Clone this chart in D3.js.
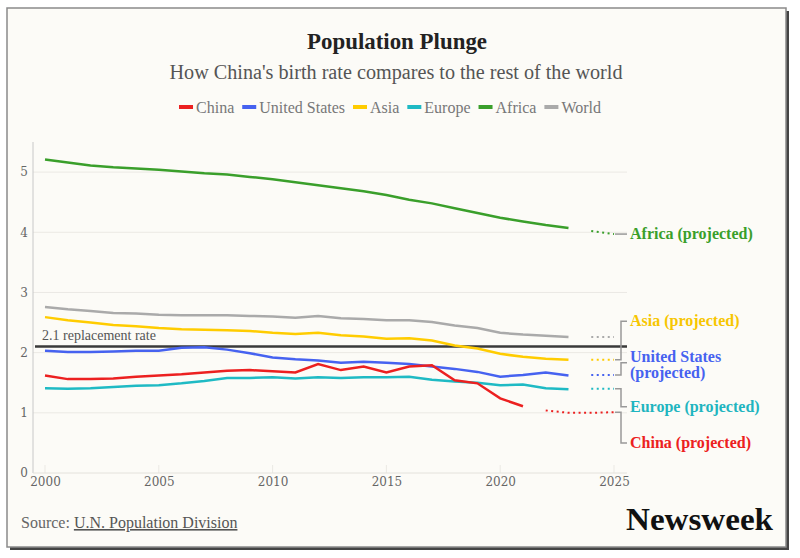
<!DOCTYPE html>
<html lang="en">
<head>
<meta charset="UTF-8">
<title>Population Plunge</title>
<script src="https://d3js.org/d3.v7.min.js"></script>
<style>
  html, body { margin: 0; padding: 0; background: #fff; }
  svg { display: block; }
</style>
</head>
<body>
<svg id="chart" width="800" height="558"></svg>
<script>
// ---- data (fertility rate, births per woman) ----
const years = d3.range(2000, 2024);
const china  = [1.62,1.56,1.56,1.57,1.60,1.62,1.64,1.67,1.70,1.71,1.69,1.67,1.81,1.71,1.77,1.67,1.77,1.79,1.54,1.49,1.24,1.11];
const us     = [2.03,2.01,2.01,2.02,2.03,2.03,2.08,2.09,2.05,1.99,1.92,1.89,1.87,1.83,1.85,1.83,1.81,1.77,1.73,1.68,1.60,1.63,1.67,1.62];
const asia   = [2.59,2.54,2.50,2.46,2.44,2.41,2.39,2.38,2.37,2.36,2.33,2.31,2.33,2.29,2.27,2.23,2.24,2.20,2.12,2.07,1.98,1.93,1.90,1.88];
const europe = [1.41,1.40,1.41,1.43,1.45,1.46,1.49,1.53,1.58,1.58,1.59,1.57,1.59,1.58,1.59,1.59,1.60,1.55,1.52,1.50,1.46,1.47,1.41,1.39];
const africa = [5.21,5.16,5.11,5.08,5.06,5.04,5.01,4.98,4.96,4.92,4.88,4.83,4.78,4.73,4.68,4.62,4.54,4.48,4.40,4.32,4.24,4.18,4.12,4.07];
const world  = [2.76,2.72,2.69,2.66,2.65,2.63,2.62,2.62,2.62,2.61,2.60,2.58,2.61,2.57,2.56,2.54,2.54,2.51,2.45,2.41,2.33,2.30,2.28,2.26];

// projections
const projYears      = [2024, 2025];
const chinaProjYears = [2022, 2023, 2024, 2025];
const chinaProj  = [1.04, 1.00, 1.00, 1.01];
const usProj     = [1.63, 1.63];
const asiaProj   = [1.88, 1.88];
const europeProj = [1.40, 1.40];
const africaProj = [4.02, 3.97];
const worldProj  = [2.26, 2.26];

const xTicks = [2000, 2005, 2010, 2015, 2020, 2025];
const yTicks = [0, 1, 2, 3, 4, 5];
const replacement = 2.1;

const seriesNames  = ["China", "United States", "Asia", "Europe", "Africa", "World"];
const seriesColors = ["#ec2020", "#4662f0", "#ffcc00", "#1fbac4", "#3a9f2b", "#aaaaaa"];

// ---- layout ----
const svg = d3.select("#chart");
const serif = "'Liberation Serif', 'Times New Roman', serif";
const numFont = "'DejaVu Serif', serif";

const x = d3.scaleLinear().domain([2000, 2025]).range([45, 614]);
const y = d3.scaleLinear().domain([0, 5.5]).range([473, 142]);
const plotLeft = 33, plotRight = 627;

// frame with shadow
svg.append("rect").attr("x", 10).attr("y", 11).attr("width", 779).attr("height", 539).attr("fill", "#444");
svg.append("rect").attr("x", 7).attr("y", 8).attr("width", 779).attr("height", 539)
  .attr("fill", "#fcfbf7").attr("stroke", "#8a8a8a").attr("stroke-width", 1.5);

// titles
svg.append("text").attr("x", 397).attr("y", 49).attr("text-anchor", "middle")
  .attr("font-family", serif).attr("font-weight", "bold").attr("font-size", 23)
  .attr("fill", "#222").attr("textLength", 180).attr("lengthAdjust", "spacingAndGlyphs")
  .text("Population Plunge");
svg.append("text").attr("x", 396).attr("y", 79).attr("text-anchor", "middle")
  .attr("font-family", serif).attr("font-size", 20)
  .attr("fill", "#555").attr("textLength", 453).attr("lengthAdjust", "spacingAndGlyphs")
  .text("How China's birth rate compares to the rest of the world");

// legend
const legend = svg.append("g");
let lx = 0;
seriesNames.forEach((name, i) => {
  const g = legend.append("g").attr("transform", `translate(${lx},0)`);
  g.append("rect").attr("x", 0).attr("y", -2).attr("width", 14).attr("height", 4).attr("fill", seriesColors[i]);
  const t = g.append("text").attr("x", 17).attr("y", 5.5)
    .attr("font-family", serif).attr("font-size", 16).attr("fill", "#777").text(name);
  lx += 17 + t.node().getComputedTextLength() + 8;
});
legend.attr("transform", `translate(${390 - (lx - 8) / 2},107)`);

// grid
const grid = svg.append("g");
grid.selectAll("line.h").data(yTicks.filter(d => d > 0)).join("line")
  .attr("x1", plotLeft).attr("x2", plotRight).attr("y1", d => y(d)).attr("y2", d => y(d))
  .attr("stroke", "#ebe9e4").attr("stroke-width", 1);
grid.selectAll("line.v").data(xTicks).join("line")
  .attr("x1", d => x(d)).attr("x2", d => x(d)).attr("y1", y(0)).attr("y2", y(0) - 8)
  .attr("stroke", "#ebe9e4").attr("stroke-width", 1);

// axes
const yAxis = svg.append("g").attr("transform", `translate(${plotLeft},0)`)
  .call(d3.axisLeft(y).tickValues(yTicks).tickFormat(d3.format("d")).tickSize(0).tickPadding(5));
yAxis.select(".domain").attr("d", `M0,${y(5.5)}V${y(0)}`).attr("stroke", "#c8c8c8");
yAxis.selectAll("text").attr("font-family", numFont).attr("font-size", 12).attr("fill", "#666");

const xAxis = svg.append("g").attr("transform", `translate(0,${y(0)})`)
  .call(d3.axisBottom(x).tickValues(xTicks).tickFormat(d3.format("d")).tickSize(0).tickPadding(4));
xAxis.select(".domain").attr("d", `M${plotLeft},0H${plotRight}`).attr("stroke", "#e4e2dc");
xAxis.selectAll("text").attr("font-family", numFont).attr("font-size", 12).attr("fill", "#666");

// replacement line
svg.append("line").attr("x1", plotLeft + 2).attr("x2", plotRight)
  .attr("y1", y(replacement)).attr("y2", y(replacement))
  .attr("stroke", "#3a3a3a").attr("stroke-width", 2.5);
svg.append("text").attr("x", 42).attr("y", y(replacement) - 7)
  .attr("font-family", serif).attr("font-size", 14).attr("fill", "#555")
  .text("2.1 replacement rate");

// lines
const line = d3.line().x(d => x(d[0])).y(d => y(d[1]));
const actual = [china, us, asia, europe, africa, world];
const drawOrder = [4, 5, 2, 1, 3, 0];
drawOrder.forEach(i => {
  svg.append("path").datum(actual[i].map((v, k) => [years[k], v]))
    .attr("d", line).attr("fill", "none")
    .attr("stroke", seriesColors[i]).attr("stroke-width", 2.5);
});

const proj = [
  [chinaProjYears, chinaProj], [projYears, usProj], [projYears, asiaProj],
  [projYears, europeProj], [projYears, africaProj], [projYears, worldProj]
];
proj.forEach(([yrs, vals], i) => {
  svg.append("path").datum(vals.map((v, k) => [yrs[k], v]))
    .attr("d", line).attr("fill", "none")
    .attr("stroke", seriesColors[i]).attr("stroke-width", 2)
    .attr("stroke-dasharray", "2,3.5");
});

// projected labels with bracket connectors
const labelLines = [
  ["China (projected)"], ["United States", "(projected)"], ["Asia (projected)"],
  ["Europe (projected)"], ["Africa (projected)"], null
];
const labelAt   = [0.5, 1.93, 2.52, 1.10, 3.97, null];   // first line centre, in rate units
const connectAt = [0.5, 1.83, 2.52, 1.10, 3.97, null];   // where bracket meets the label
const labelColors = ["#ec2020", "#4662f0", "#f7c600", "#1fb5c0", "#3a9f2b", null];
const labelG = svg.append("g");
labelLines.forEach((txt, i) => {
  if (!txt) return;
  const endV = proj[i][1][proj[i][1].length - 1];
  const y0 = y(endV), y1 = y(connectAt[i]);
  const bx = 621;
  labelG.append("path")
    .attr("d", `M${x(2025) + 1},${y0}H${bx}V${y1}H${plotRight}`)
    .attr("fill", "none").attr("stroke", "#999").attr("stroke-width", 1.5);
  txt.forEach((s, k) => {
    labelG.append("text").attr("x", 630)
      .attr("y", y(labelAt[i]) + 5 + k * 16)
      .attr("font-family", serif).attr("font-weight", "bold").attr("font-size", 16)
      .attr("fill", labelColors[i]).text(s);
  });
});

// footer
const src = svg.append("text").attr("x", 21).attr("y", 528)
  .attr("font-family", serif).attr("font-size", 16).attr("fill", "#666");
src.append("tspan").text("Source: ");
src.append("tspan").attr("text-decoration", "underline").attr("fill", "#555").text("U.N. Population Division");

svg.append("text").attr("x", 773).attr("y", 530).attr("text-anchor", "end")
  .attr("font-family", serif).attr("font-weight", "bold").attr("font-size", 31)
  .attr("fill", "#111").attr("textLength", 147).attr("lengthAdjust", "spacingAndGlyphs")
  .text("Newsweek");
</script>
</body>
</html>
